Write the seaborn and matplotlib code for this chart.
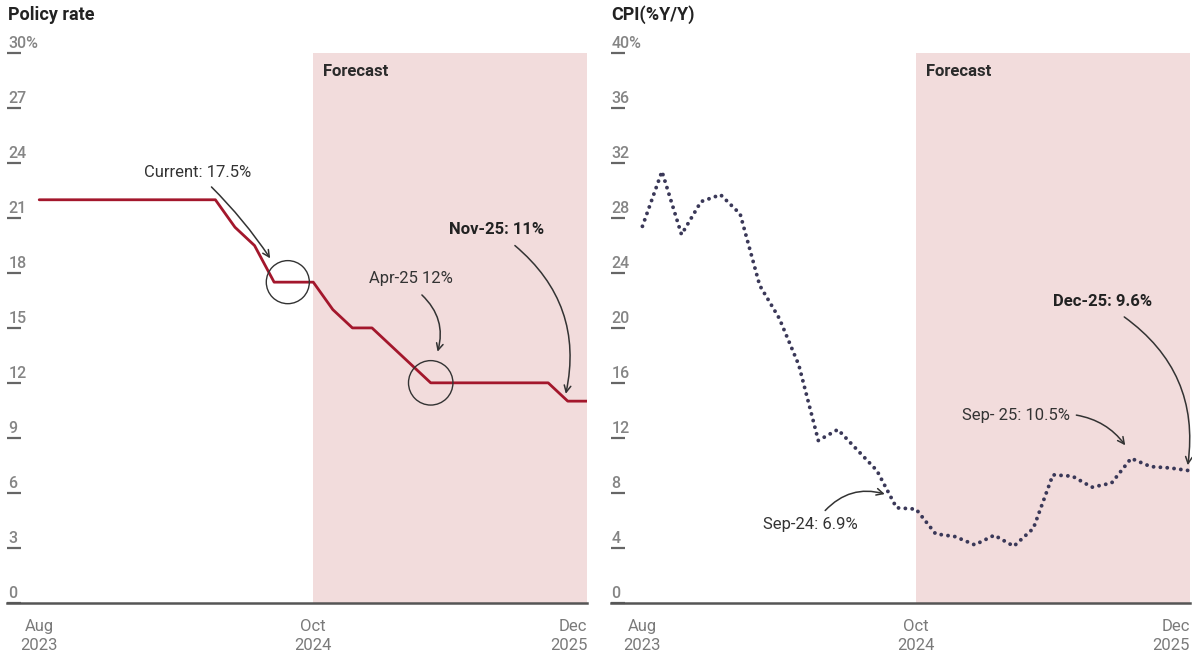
import numpy as np
import pandas as pd
import matplotlib
matplotlib.use("Agg")
import matplotlib.pyplot as plt
import seaborn as sns

# ---- data -------------------------------------------------------------
months = pd.period_range("2023-08", "2025-12", freq="M")
policy_rate = [22, 22, 22, 22, 22, 22, 22, 22, 22, 22,
               20.5, 19.5, 17.5, 17.5, 17.5, 16, 15, 15, 14, 13,
               12, 12, 12, 12, 12, 12, 12, 11, 11]
cpi = [27.4, 31.4, 26.8, 29.2, 29.7, 28.3, 23.1, 20.7, 17.3, 11.8,
       12.6, 11.1, 9.6, 6.9, 6.8, 5.0, 4.8, 4.2, 4.9, 4.1,
       5.4, 9.3, 9.2, 8.4, 8.7, 10.5, 9.9, 9.8, 9.6]
forecast_start = "2024-10"
x_tick_months = ["2023-08", "2024-10", "2025-12"]
x_tick_labels = ["Aug\n2023", "Oct\n2024", "Dec\n2025"]
policy_ticks = [0, 3, 6, 9, 12, 15, 18, 21, 24, 27, 30]
cpi_ticks = [0, 4, 8, 12, 16, 20, 24, 28, 32, 36, 40]

# ---- style ------------------------------------------------------------
RED = "#a3172c"
NAVY = "#3a3858"
SHADE = "#f2dcdc"
INK = "#2b2b2b"
GREY = "#858585"

sns.set_style("white")
plt.rcParams["font.family"] = ["Roboto", "DejaVu Sans"]

df = pd.DataFrame({"pos": np.arange(len(months)),
                   "policy": policy_rate,
                   "cpi": cpi})
pos_of = {str(p): i for i, p in enumerate(months)}
fc0 = pos_of[forecast_start]
last = len(months) - 1

fig = plt.figure(figsize=(11.92, 6.59), dpi=100)
ax1 = fig.add_axes([0.00612, 0.0857, 0.4866, 0.8334])
ax2 = fig.add_axes([0.5122, 0.0857, 0.4859, 0.8334])


def style_panel(ax, ticks, title, title_x):
    top = ticks[-1]
    ax.set_xlim(-1.63, last)
    ax.set_ylim(0, top)
    ax.axvspan(fc0, last, color=SHADE, lw=0, zorder=0)
    for s in ["left", "right", "top"]:
        ax.spines[s].set_visible(False)
    ax.spines["bottom"].set_color("#555555")
    ax.spines["bottom"].set_linewidth(1.8)
    ax.set_xticks([pos_of[m] for m in x_tick_months])
    ax.set_xticklabels(x_tick_labels)
    ax.tick_params(axis="x", direction="out", length=4, width=1.1,
                   color="#444444", pad=8, labelsize=12, labelcolor="#7a7a7a")
    labels = ax.get_xticklabels()
    for t in labels:
        t.set_multialignment("center")
        t.set_linespacing(1.35)
    labels[-1].set_ha("right")
    labels[-1].set_multialignment("right")
    ax.set_yticks(ticks)
    ax.set_yticklabels([])
    ax.tick_params(axis="y", direction="in", length=10, width=1.6,
                   color="#666666", left=True)
    for v in ticks:
        txt = f"{v}%" if v == top else str(v)
        ax.annotate(txt, xy=(0, v), xycoords=ax.get_yaxis_transform(),
                    xytext=(1, 5), textcoords="offset pixels",
                    ha="left", va="baseline", fontsize=11.5, color=GREY,
                    fontweight="medium", annotation_clip=False)
    ax.annotate("Forecast", xy=(fc0, top), xycoords="data",
                xytext=(10, -18), textcoords="offset pixels",
                ha="left", va="center", fontsize=12, fontweight="bold",
                color=INK)
    ax.set(xlabel="", ylabel="")
    fig.text(title_x, 1 - 15 / 659, title, fontsize=13, fontweight="bold",
             color="#222222", ha="left", va="center")


def arrow(ax, start, tip, rad):
    ax.annotate("", xy=tip, xytext=start,
                arrowprops=dict(arrowstyle="->", color="#333333", lw=1.1,
                                connectionstyle=f"arc3,rad={rad}",
                                shrinkA=0, shrinkB=0, mutation_scale=12))


def label(ax, x, y, text, bold=False):
    ax.text(x, y, text, ha="center", va="center", fontsize=12,
            color="#222222" if bold else "#333333",
            fontweight="bold" if bold else "normal")


# ---- policy rate -------------------------------------------------------
sns.lineplot(data=df, x="pos", y="policy", ax=ax1, color=RED,
             linewidth=2.0, zorder=3)
style_panel(ax1, policy_ticks, "Policy rate", 8 / 1192)

i_cur = pos_of["2024-08"]
i_apr = pos_of["2025-04"]
ax1.scatter([i_cur + 0.7], [policy_rate[i_cur]], s=31 ** 2, facecolors="none",
            edgecolors="#333333", linewidths=1.0, zorder=4)
ax1.scatter([i_apr], [policy_rate[i_apr]], s=32 ** 2, facecolors="none",
            edgecolors="#333333", linewidths=1.0, zorder=4)

label(ax1, 8.1, 23.5, "Current: 17.5%")
arrow(ax1, (8.8, 22.7), (11.8, 18.8), -0.05)
label(ax1, 19.0, 17.7, "Apr-25 12%")
arrow(ax1, (19.55, 16.8), (20.35, 13.7), -0.3)
label(ax1, 23.35, 20.4, "Nov-25: 11%", bold=True)
arrow(ax1, (24.3, 19.5), (26.9, 11.4), -0.3)

# ---- CPI -----------------------------------------------------------------
sns.lineplot(data=df, x="pos", y="cpi", ax=ax2, color=NAVY,
             linewidth=2.8, zorder=3)
dots = ax2.lines[-1]
dots.set_linestyle((0, (0.01, 1.75)))
dots.set_dash_capstyle("round")
style_panel(ax2, cpi_ticks, "CPI(%Y/Y)", 611.5 / 1192)

label(ax2, 8.6, 5.7, "Sep-24: 6.9%")
arrow(ax2, (9.35, 6.7), (12.4, 7.9), -0.3)
label(ax2, 19.1, 13.6, "Sep- 25: 10.5%")
arrow(ax2, (22.2, 13.65), (24.7, 11.45), -0.2)
label(ax2, 23.55, 21.9, "Dec-25: 9.6%", bold=True)
arrow(ax2, (24.65, 20.8), (27.9, 10.0), -0.3)

fig.savefig("out.png", dpi=100)
